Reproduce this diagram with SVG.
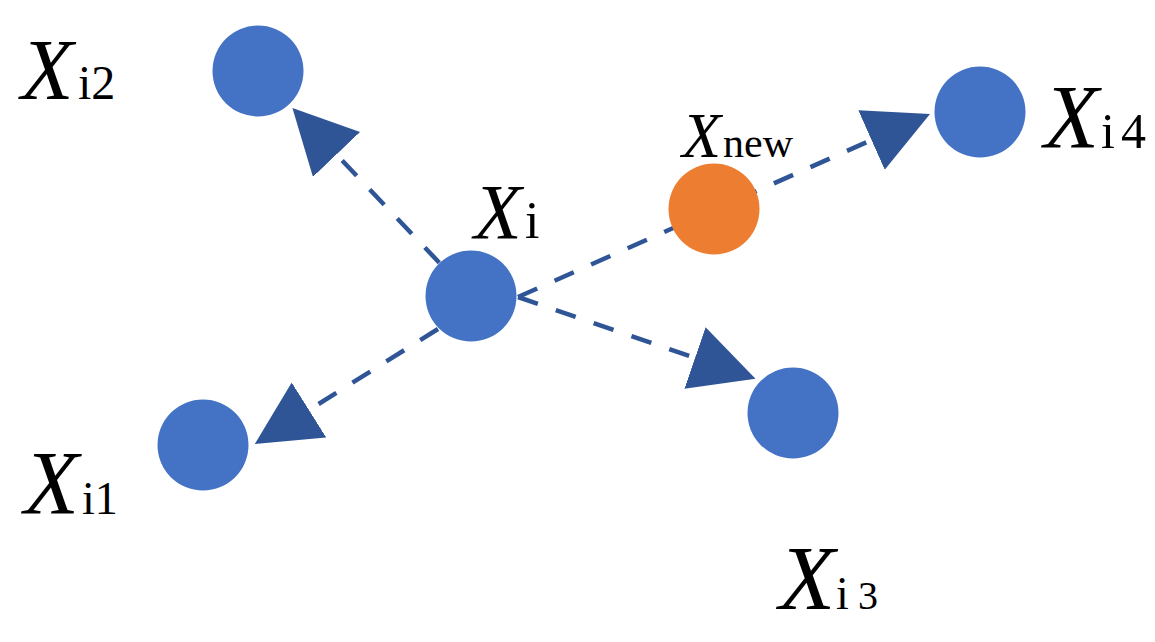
<svg xmlns="http://www.w3.org/2000/svg" width="1155" height="642" viewBox="0 0 1155 642">
<style>
.node{fill:#4472C4}
.new{fill:#ED7D31}
.edge{stroke:#2F5597;stroke-width:4.5;stroke-dasharray:21 19;fill:none;marker-end:url(#arr)}
text{font-family:'Liberation Serif','Times New Roman','DejaVu Serif',serif;fill:#000}
.big{font-style:italic}
</style>
<defs>
<marker id="arr" markerUnits="userSpaceOnUse" markerWidth="66" markerHeight="66" refX="0" refY="32.5" orient="auto" viewBox="0 0 66 66">
<path d="M0,0 L64,32.5 L0,65 Z" fill="#2F5597"/>
</marker>
</defs>
<rect width="1155" height="642" fill="#fff"/>
<g id="connectors">
<line class="edge" x1="439.3" y1="262.7" x2="336.5" y2="154.5"/>
<line class="edge" x1="438" y1="329" x2="309" y2="410"/>
<line class="edge" x1="518" y1="297" x2="695" y2="358"/>
<line class="edge" x1="518" y1="297" x2="871.5" y2="140"/>
</g>
<g id="xi">
<circle class="node" cx="471" cy="296" r="45.5"/>
<text font-family="Liberation Serif, serif" y="238"><tspan class="big" x="474" font-size="78">X</tspan><tspan x="525" font-size="52">i</tspan></text>
</g>
<g id="xi2">
<circle class="node" cx="258" cy="71" r="45.5"/>
<text font-family="Liberation Serif, serif" y="99"><tspan class="big" x="21" font-size="86">X</tspan><tspan x="78" font-size="48">i2</tspan></text>
</g>
<g id="xi1">
<circle class="node" cx="203" cy="445" r="45.5"/>
<text font-family="Liberation Serif, serif" y="514"><tspan class="big" x="24" font-size="90">X</tspan><tspan x="82" font-size="46">i1</tspan></text>
</g>
<g id="xi3">
<circle class="node" cx="793" cy="413" r="45.5"/>
<text font-family="Liberation Serif, serif" y="609"><tspan class="big" x="779" font-size="92">X</tspan><tspan x="836" font-size="46">i</tspan><tspan x="858" font-size="40">3</tspan></text>
</g>
<g id="xi4">
<circle class="node" cx="980" cy="112" r="45.5"/>
<text font-family="Liberation Serif, serif" y="148"><tspan class="big" x="1044" font-size="90">X</tspan><tspan x="1101" font-size="50">i</tspan><tspan x="1121" font-size="50">4</tspan></text>
</g>
<g id="xnew">
<circle class="new" cx="714" cy="209" r="45.5"/>
<text font-family="Liberation Serif, serif" y="157"><tspan class="big" x="682" font-size="64">X</tspan><tspan x="723" font-size="42">new</tspan></text>
</g>
</svg>
